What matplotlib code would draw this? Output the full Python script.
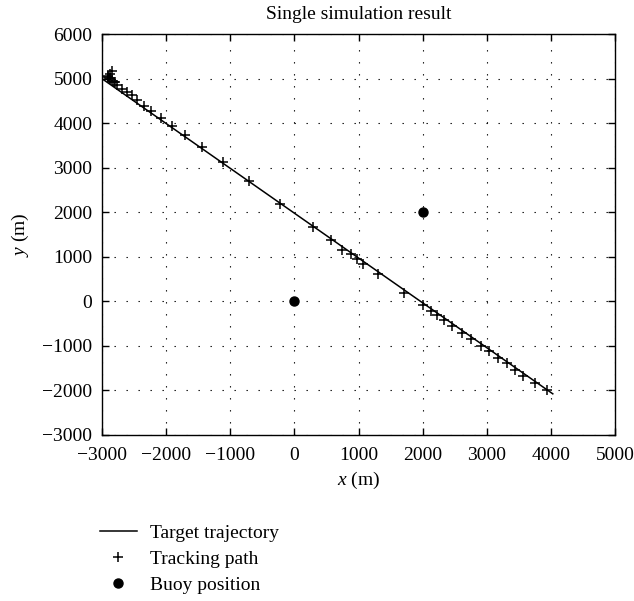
# Single simulation result: target trajectory, tracking path, buoys

import matplotlib
matplotlib.use("Agg")
import matplotlib.pyplot as plt
import numpy as np

plt.rcParams['font.family'] = ['Liberation Serif', 'DejaVu Serif']
plt.rcParams['mathtext.fontset'] = 'custom'
plt.rcParams['mathtext.it'] = 'Liberation Serif:italic'
plt.rcParams['mathtext.rm'] = 'Liberation Serif'

# target trajectory (straight line)
target_x = [-3000, 4030]
target_y = [5000, -2085]

# tracking path estimates
track_x = [-2850, -2880, -2905, -2912, -2895, -2870, -2840, -2815, -2797,
           -2770, -2692, -2614, -2536, -2448, -2344, -2234, -2078, -1911,
           -1703, -1442, -1120, -703, -219, 286, 573, 750, 875, 980, 1067,
           1308, 1714, 2011, 2125, 2230, 2333, 2464, 2620, 2760, 2906, 3036,
           3177, 3313, 3442, 3563, 3755, 3933]
track_y = [5165, 5110, 5060, 5040, 5010, 4985, 4960, 4935, 4917,
           4852, 4778, 4702, 4627, 4515, 4396, 4275, 4117, 3937,
           3727, 3464, 3120, 2693, 2175, 1664, 1365, 1155, 1065, 953, 840,
           600, 179, -98, -226, -307, -435, -570, -721, -856, -1005, -1133,
           -1275, -1396, -1545, -1673, -1846, -2010]

# buoy positions
buoy_x = [0, 2000]
buoy_y = [0, 2000]

fig = plt.figure(figsize=(6.34, 6.01), dpi=100)
ax = fig.add_axes([0.161, 0.277, 0.809, 0.666])

ax.plot(target_x, target_y, color='black', linewidth=1.1, label='Target trajectory')
ax.plot(track_x, track_y, linestyle='none', marker='+', markersize=6.5,
        markeredgewidth=1.1, color='black', label='Tracking path')
ax.plot(buoy_x, buoy_y, linestyle='none', marker='o', markersize=6.5,
        color='black', label='Buoy position')

ax.set_xlim(-3000, 5000)
ax.set_ylim(-3000, 6000)
ax.set_xticks(np.arange(-3000, 5001, 1000))
ax.set_yticks(np.arange(-3000, 6001, 1000))
ax.tick_params(direction='in', top=True, right=True, length=5, labelsize=14,
               width=1.0)
ax.tick_params(axis='x', pad=9)
ax.tick_params(axis='y', pad=7)
ax.grid(True, color='black', linewidth=0.8, linestyle=(0, (1.2, 9.6)))
for s in ax.spines.values():
    s.set_linewidth(1.0)

ax.set_title('Single simulation result', fontsize=14, pad=11)
ax.set_xlabel(r'$x$ (m)', fontsize=14, labelpad=4)
ax.set_ylabel(r'$y$ (m)', fontsize=14, labelpad=8)

fig.legend(loc='upper left', bbox_to_anchor=(0.145, 0.14), frameon=False,
           fontsize=14, handlelength=1.9, handletextpad=0.7,
           labelspacing=0.42, borderaxespad=0)

fig.savefig('out.png', dpi=100)
